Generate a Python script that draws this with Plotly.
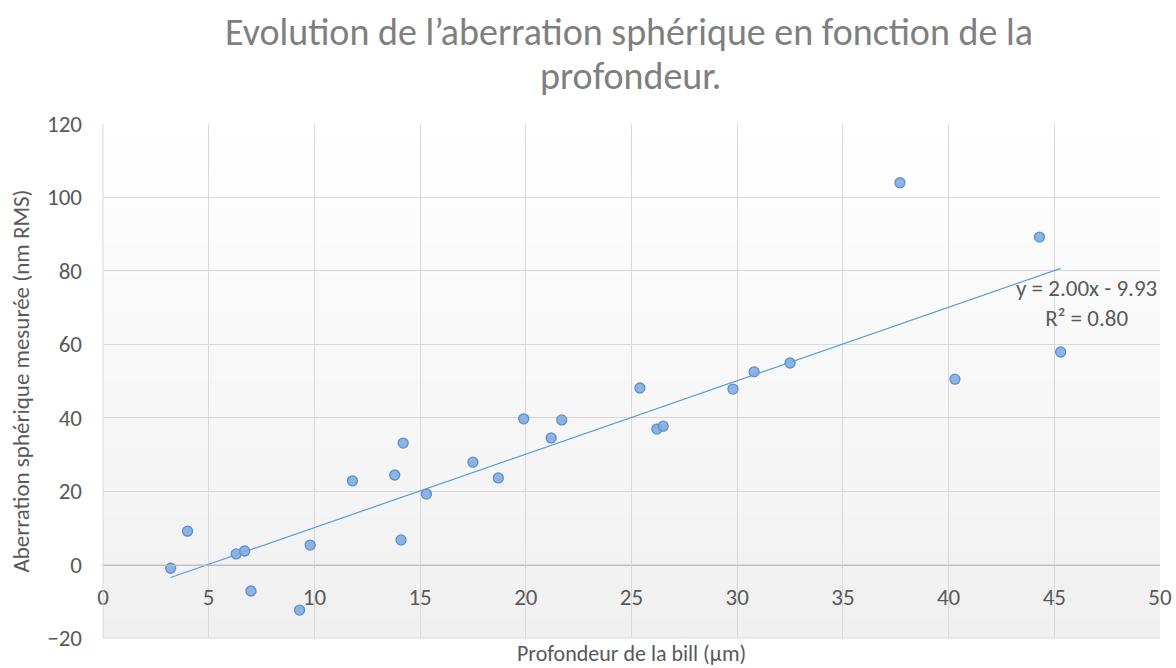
import plotly.graph_objects as go

# Measured depth (µm) and spherical aberration (nm RMS)
profondeur = [3.2, 4.0, 6.3, 6.7, 7.0, 9.3, 9.8, 11.8, 13.8, 14.2, 14.1, 15.3, 17.5,
              18.7, 19.9, 21.2, 21.7, 25.4, 26.2, 26.5, 29.8, 30.8, 32.5, 37.7,
              40.3, 44.3, 45.3]
aberration = [-1.0, 9.1, 2.9, 3.7, -7.2, -12.4, 5.3, 22.8, 24.4, 33.1, 6.7, 19.2, 27.9,
              23.6, 39.7, 34.5, 39.4, 48.1, 36.9, 37.7, 47.8, 52.5, 54.9, 104.0,
              50.5, 89.2, 57.9]

# Linear trend: y = a x + b
pente = 2.00
ordonnee = -9.93
r2 = 0.80
x_trend = [min(profondeur), max(profondeur)]
y_trend = [pente * v + ordonnee for v in x_trend]

x_ticks = [0, 5, 10, 15, 20, 25, 30, 35, 40, 45, 50]
y_ticks = [-20, 0, 20, 40, 60, 80, 100, 120]

titre_1 = "Evolution de l’aberration sphérique en fonction de la"
titre_2 = "profondeur."

FONT = "Carlito, Calibri, Lato, sans-serif"
TXT = "#595959"

fig = go.Figure()

# vertical gradient of the plot area (white at top, light grey at bottom)
n_bands = 60
for i in range(n_bands):
    t = (i + 0.5) / n_bands
    g = round(255 - 15 * t)
    fig.add_shape(type="rect", xref="x domain", yref="y domain",
                  x0=0, x1=1, y0=1 - (i + 1) / n_bands, y1=1 - i / n_bands + 0.002,
                  fillcolor=f"rgb({g},{g},{g})", line_width=0, layer="below")

fig.add_trace(go.Scatter(x=x_trend, y=y_trend, mode="lines",
                         line=dict(color="#5B9BD5", width=1.2),
                         hoverinfo="skip", showlegend=False))
fig.add_trace(go.Scatter(x=profondeur, y=aberration, mode="markers",
                         marker=dict(size=10, color="rgba(130,172,224,0.9)",
                                     line=dict(color="#5B8FD0", width=1.3)),
                         showlegend=False))

# trendline equation
fig.add_annotation(x=0.930, xref="paper", y=0.652, yref="paper",
                   text=f"y = {pente:.2f}x - {abs(ordonnee):.2f}<br>R² = {r2:.2f}",
                   showarrow=False, xanchor="center", yanchor="middle", align="center",
                   font=dict(family=FONT, size=23, color=TXT))

# chart title, two lines
fig.add_annotation(x=0.4976, xref="paper", y=1.179, yref="paper", text=titre_1,
                   showarrow=False, xanchor="center", yanchor="middle",
                   font=dict(family=FONT, size=38, color="#7F7F7F"))
fig.add_annotation(x=0.4995, xref="paper", y=1.093, yref="paper", text=titre_2,
                   showarrow=False, xanchor="center", yanchor="middle",
                   font=dict(family=FONT, size=38, color="#7F7F7F"))

# x axis title
fig.add_annotation(x=0.5, xref="paper", y=-0.031, yref="paper",
                   text="Profondeur de la bill (µm)", showarrow=False,
                   xanchor="center", yanchor="middle",
                   font=dict(family=FONT, size=22, color=TXT))

fig.update_layout(
    width=1176, height=668,
    margin=dict(l=103, r=16, t=124, b=30),
    paper_bgcolor="white", plot_bgcolor="rgba(0,0,0,0)",
    xaxis=dict(range=[0, 50], tickvals=x_ticks, showgrid=True, gridcolor="#D9D9D9",
               gridwidth=1, zeroline=False, showline=True, linecolor="#BFBFBF",
               linewidth=1, anchor="free", position=1 / 7, ticks="",
               ticklabelstandoff=12, automargin=False,
               tickfont=dict(family=FONT, size=23, color=TXT)),
    yaxis=dict(range=[-20, 120], tickvals=y_ticks, showgrid=True, gridcolor="#D9D9D9",
               gridwidth=1, zeroline=False, showline=False, ticks="",
               ticklabelstandoff=20, automargin=False,
               tickfont=dict(family=FONT, size=23, color=TXT),
               title=dict(text="Aberration sphérique mesurée (nm RMS)", standoff=10,
                          font=dict(family=FONT, size=23, color=TXT))),
)

# outer frame lines of the plot area on the left and bottom
fig.add_shape(type="line", xref="x domain", yref="y domain", x0=0, x1=0, y0=0, y1=1,
              line=dict(color="#D9D9D9", width=1))
fig.add_shape(type="line", xref="x domain", yref="y domain", x0=0, x1=1, y0=0, y1=0,
              line=dict(color="#D9D9D9", width=1))

fig.write_html("out.html")
